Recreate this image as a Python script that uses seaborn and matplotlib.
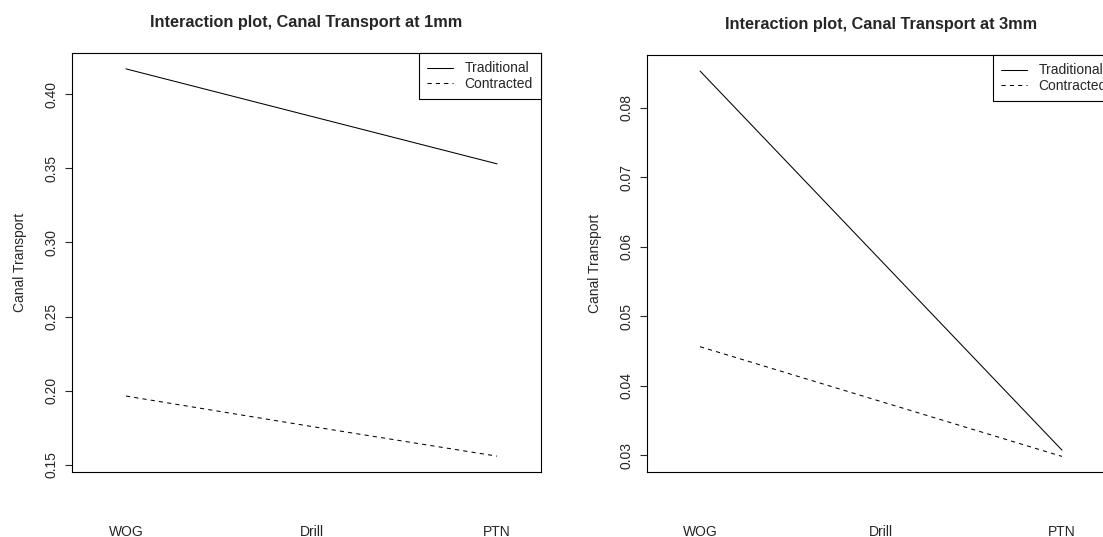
import pandas as pd
import seaborn as sns
from matplotlib import pyplot as plt

# interaction means
levels = ['WOG', 'Drill', 'PTN']
types = ['Traditional', 'Contracted']
trad_1mm = [0.417, 0.385, 0.353]
contr_1mm = [0.1965, 0.176, 0.156]
trad_3mm = [0.0853, 0.058, 0.0307]
contr_3mm = [0.0456, 0.0377, 0.0298]

sns.set_style('white')
plt.rcParams['font.family'] = ['Liberation Sans', 'DejaVu Sans']
plt.rcParams['font.size'] = 10


def make_df(trad, contr):
    rows = []
    for i, lev in enumerate(levels):
        rows.append({'pos': i, 'level': lev, 'type': 'Traditional', 'value': trad[i]})
        rows.append({'pos': i, 'level': lev, 'type': 'Contracted', 'value': contr[i]})
    return pd.DataFrame(rows)


fig = plt.figure(figsize=(11.03, 5.37), dpi=100)
ax1 = fig.add_axes([0.0653, 0.121, 0.4252, 0.780])
# right panel runs slightly past the figure edge, as in the original crop
ax2 = fig.add_axes([0.5866, 0.121, 0.4243, 0.7765])

panels = [
    (ax1, make_df(trad_1mm, contr_1mm), 'Interaction plot, Canal Transport at 1mm',
     (-0.291, 2.237), (0.1453, 0.4276), [0.15, 0.20, 0.25, 0.30, 0.35, 0.40]),
    (ax2, make_df(trad_3mm, contr_3mm), 'Interaction plot, Canal Transport at 3mm',
     (-0.293, 2.293), (0.02755, 0.0876), [0.03, 0.04, 0.05, 0.06, 0.07, 0.08]),
]

for ax, df, title, xlim, ylim, yticks in panels:
    sns.lineplot(data=df, x='pos', y='value', style='type', style_order=types,
                 dashes={'Traditional': '', 'Contracted': (4, 4)},
                 color='black', linewidth=0.75, ax=ax)
    ax.set_xlim(*xlim)
    ax.set_ylim(*ylim)
    ax.set_xticks(range(len(levels)))
    ax.set_xticklabels(levels)
    ax.set_yticks(yticks)
    ax.set_yticklabels(['%.2f' % v for v in yticks], rotation=90, va='center')
    ax.tick_params(axis='x', length=0, pad=38, labelsize=10)
    ax.tick_params(axis='y', length=5, width=0.8, pad=5, labelsize=10, left=True)
    ax.set_xlabel('')
    ax.set_ylabel('Canal Transport', fontsize=10, labelpad=12)
    ax.set_title(title, fontsize=11.7, fontweight='bold', pad=19)
    for sp in ax.spines.values():
        sp.set_color('black')
        sp.set_linewidth(0.8)
    leg = ax.legend(loc='upper right', title=None, borderaxespad=0, fancybox=False,
                    edgecolor='black', framealpha=1, fontsize=10, handlelength=1.9,
                    handletextpad=0.8, labelspacing=0.1, borderpad=0.6)
    leg.get_frame().set_linewidth(0.8)

plt.savefig('out.png', dpi=100)
